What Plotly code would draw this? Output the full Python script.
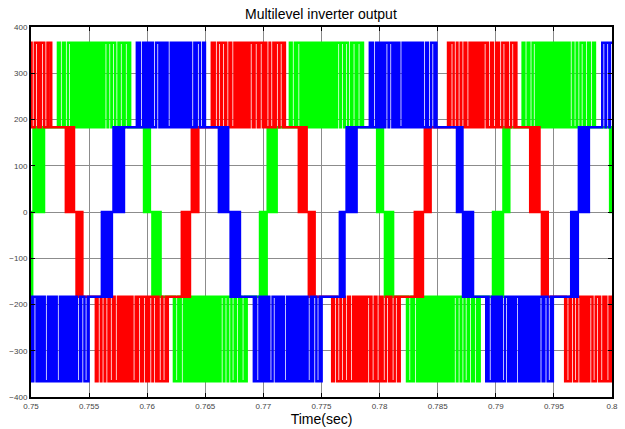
import plotly.graph_objects as go

# ---- data ----
# Each phase: segment edges (s), and the low / high level of each segment.
# Segments with low == high are flat; others are PWM switching between the two levels.
red_edges = [0.75000, 0.75174, 0.75295, 0.75375, 0.75387, 0.75443, 0.75553, 0.76177,
             0.76298, 0.76369, 0.76384, 0.76440, 0.76556, 0.77185, 0.77300, 0.77372,
             0.77386, 0.77443, 0.77587, 0.78174, 0.78303, 0.78374, 0.78389, 0.78440,
             0.78589, 0.79177, 0.79291, 0.79377, 0.79392, 0.79448, 0.79592, 0.80000]
red_lo = [183, 183, 0, 0, -183, -183, -366, -183, -183, 0, 0, 183,
          183, 183, 0, 0, -183, -183, -366, -183, -183, 0, 0, 183,
          183, 183, 0, 0, -183, -183, -366]
red_hi = [366, 183, 183, 0, 0, -183, -183, -183, 0, 0, 183, 183,
          366, 183, 183, 0, 0, -183, -183, -183, 0, 0, 183, 183,
          366, 183, 183, 0, 0, -183, -183]

green_edges = [0.75000, 0.75011, 0.75022, 0.75114, 0.75232, 0.75853, 0.75968, 0.76025,
               0.76040, 0.76120, 0.76225, 0.76856, 0.76971, 0.77028, 0.77037, 0.77114,
               0.77228, 0.77858, 0.77974, 0.78030, 0.78041, 0.78116, 0.78231, 0.78861,
               0.78976, 0.79062, 0.79066, 0.79119, 0.79231, 0.79858, 0.79979, 0.80000]
green_lo = [-183, 0, 0, 183, 183, 183, 0, 0, -183, -183, -366, -183,
            -183, 0, 0, 183, 183, 183, 0, 0, -183, -183, -366, -183,
            -183, 0, 0, 183, 183, 183, 0]
green_hi = [0, 0, 183, 183, 366, 183, 183, 0, 0, -183, -183, -183,
            0, 0, 183, 183, 366, 183, 183, 0, 0, -183, -183, -183,
            0, 0, 183, 183, 366, 183, 183]

blue_edges = [0.75000, 0.75495, 0.75610, 0.75696, 0.75710, 0.75802, 0.75911, 0.76498,
              0.76612, 0.76698, 0.76713, 0.76799, 0.76913, 0.77501, 0.77658, 0.77701,
              0.77716, 0.77802, 0.77916, 0.78489, 0.78661, 0.78713, 0.78804, 0.78913,
              0.79491, 0.79649, 0.79706, 0.79715, 0.79801, 0.79916, 0.80000]
blue_lo = [-366, -183, -183, 0, 0, 183, 183, 183, 0, 0, -183, -183,
           -366, -183, -183, 0, 0, 183, 183, 183, 0, -183, -183,
           -366, -183, -183, 0, 0, 183, 183]
blue_hi = [-183, -183, 0, 0, 183, 183, 366, 183, 183, 0, 0, -183,
           -183, -183, 0, 0, 183, 183, 366, 183, 183, 0, -183,
           -183, -183, 0, 0, 183, 183, 366]

# positions (fraction of each wide PWM block) of the visible white streaks
red_gaps = [0.04, 0.09, 0.14, 0.20, 0.27, 0.52, 0.59, 0.66, 0.75, 0.80, 0.88, 0.93]
green_gaps = [0.03, 0.10, 0.14, 0.65, 0.70, 0.75, 0.80, 0.86, 0.93]
blue_gaps = [0.05, 0.24, 0.29, 0.45, 0.80, 0.88, 0.93]

x_ticks = [0.75, 0.755, 0.76, 0.765, 0.77, 0.775, 0.78, 0.785, 0.79, 0.795, 0.8]
x_tick_labels = ["0.75", "0.755", "0.76", "0.765", "0.77", "0.775", "0.78", "0.785", "0.79", "0.795", "0.8"]
y_ticks = [-400, -300, -200, -100, 0, 100, 200, 300, 400]

CARRIER_PERIOD = 0.0001  # switching period used to render the PWM blocks
GAP_WIDTH = 0.00028      # hold time that leaves a visible white streak


def build_wave(edges, lo, hi, gaps):
    ts, vs = [], []
    for i in range(len(lo)):
        t0, t1 = edges[i], edges[i + 1]
        if lo[i] == hi[i]:
            ts.append(t0)
            vs.append(lo[i])
            continue
        wide = abs(hi[i]) + abs(lo[i]) > 366 or (t1 - t0) > 0.002
        gap_times = [t0 + g * (t1 - t0) for g in gaps] if wide else []
        t = t0
        state = True
        while t < t1 - 1e-9:
            ts.append(t)
            vs.append(hi[i] if state else lo[i])
            hit = [g for g in gap_times if t <= g < t + CARRIER_PERIOD / 2]
            if hit:
                t += GAP_WIDTH
            else:
                t += CARRIER_PERIOD / 2
            state = not state
    ts.append(edges[-1])
    vs.append(vs[-1])
    return ts, vs


fig = go.Figure()
for name, e, lo, hi, gp, col in [("Phase B", green_edges, green_lo, green_hi, green_gaps, "#00ff00"),
                                 ("Phase A", red_edges, red_lo, red_hi, red_gaps, "#ff0000"),
                                 ("Phase C", blue_edges, blue_lo, blue_hi, blue_gaps, "#0000ff")]:
    ts, vs = build_wave(e, lo, hi, gp)
    fig.add_trace(go.Scatter(x=ts, y=vs, mode="lines", name=name,
                             line=dict(color=col, width=2.5, shape="hv"),
                             showlegend=False, hoverinfo="skip"))

axis_common = dict(showline=True, linecolor="black", linewidth=2, mirror="ticks",
                   ticks="inside", ticklen=4, tickcolor="black", automargin=False,
                   showgrid=True, gridcolor="#8c8c8c", gridwidth=1, zeroline=False,
                   tickfont=dict(family="Liberation Sans, Arial", size=8, color="#444444"))

fig.update_xaxes(range=[0.75, 0.8], tickvals=x_ticks, ticktext=x_tick_labels,
                 title=dict(text="Time(sec)", font=dict(family="Liberation Sans, Arial", size=14, color="black"),
                            standoff=2),
                 **axis_common)
fig.update_yaxes(range=[-400, 400], tickvals=y_ticks, **axis_common)

fig.update_layout(
    width=625, height=429,
    margin=dict(l=31, r=13, t=27, b=32, pad=0, autoexpand=False),
    paper_bgcolor="white", plot_bgcolor="white",
    title=dict(text="Multilevel inverter output", x=0.5135, xanchor="center",
               y=1 - 14 / 429, yanchor="middle", yref="container", automargin=False,
               font=dict(family="Liberation Sans, Arial", size=14, color="black")),
)

fig.write_html("out.html", config={"displayModeBar": False},
               post_script="document.body.style.margin='0';document.body.style.overflow='hidden';")
